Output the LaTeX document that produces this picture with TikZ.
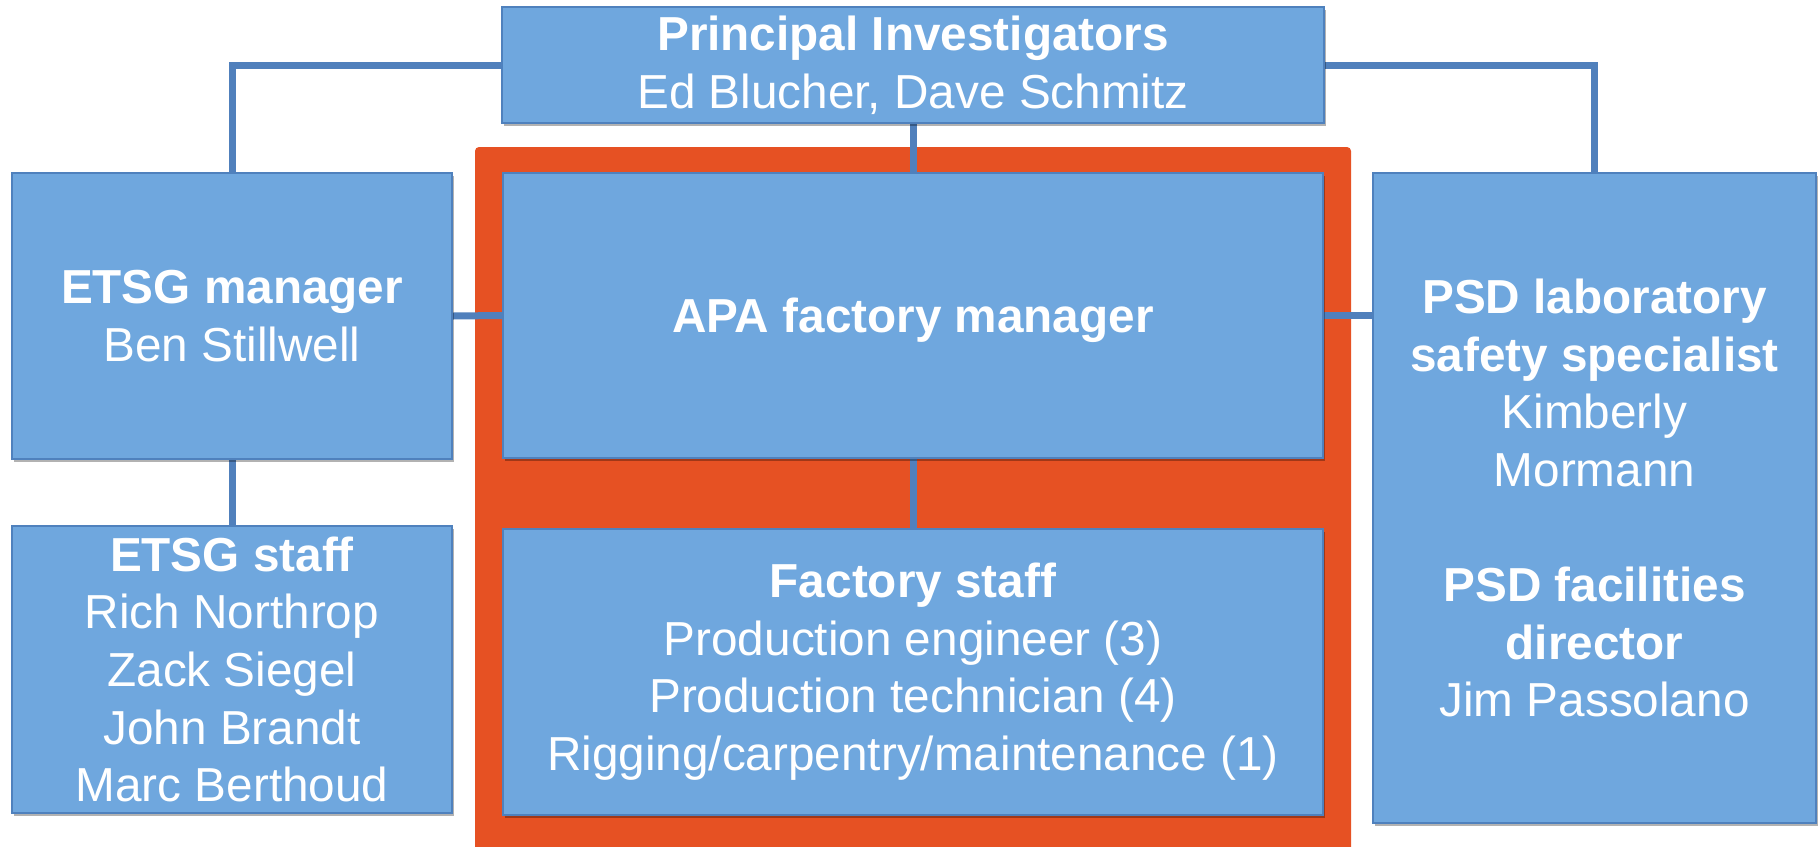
\documentclass[tikz,border=0pt]{standalone}
\usepackage{fontspec}
\setmainfont{Liberation Sans}
\usetikzlibrary{shadows,backgrounds}

\definecolor{boxfill}{RGB}{111,167,222}
\definecolor{boxline}{RGB}{79,129,189}
\definecolor{linkblue}{RGB}{80,128,188}
\definecolor{factoryorange}{RGB}{230,81,35}

\tikzset{
  orgbox/.style={
    draw=boxline, line width=2pt, fill=boxfill,
    text=white, align=center, inner sep=0pt,
    font=\fontsize{47.7}{57.6}\selectfont,
    drop shadow={shadow xshift=1.5pt, shadow yshift=-3pt, opacity=0.3, fill=black}
  },
  link/.style={draw=linkblue, line width=7pt},
  frame/.style={fill=factoryorange, rounded corners=4pt}
}

\begin{document}
\begin{tikzpicture}[x=1pt, y=-1pt]
  \useasboundingbox (0,0) rectangle (1819,846);

  % boxes
  \node[orgbox, minimum width=822pt, minimum height=116pt] (pi) at (913,65)
    {\textbf{Principal Investigators}\\Ed Blucher, Dave Schmitz};
  \node[orgbox, minimum width=440pt, minimum height=286pt] (etsgm) at (232,316)
    {\textbf{ETSG manager}\\Ben Stillwell};
  \node[orgbox, minimum width=440pt, minimum height=287pt] (etsgs) at (232,669.5)
    {\textbf{ETSG staff}\\Rich Northrop\\Zack Siegel\\John Brandt\\Marc Berthoud};
  \node[orgbox, minimum width=820pt, minimum height=285pt, text depth=0pt] (apa) at (913,315.5)
    {\textbf{APA factory manager}};
  \node[orgbox, minimum width=820pt, minimum height=286pt] (fstaff) at (913,671.5)
    {\textbf{Factory staff}\\Production engineer (3)\\Production technician (4)\\Rigging/carpentry/maintenance (1)};
  \node[orgbox, minimum width=443pt, minimum height=650pt] (psd) at (1594.5,498)
    {\textbf{PSD laboratory}\\\textbf{safety specialist}\\Kimberly\\Mormann\\[57.6pt]\textbf{PSD facilities}\\\textbf{director}\\Jim Passolano};

  \begin{pgfonlayer}{background}
    % highlighted factory group
    \path[frame] (475,147) rectangle (1351,852);

    % reporting lines
    \draw[link] (pi.west) -| (etsgm.north);
    \draw[link] (pi.east) -| (psd.north);
    \draw[link] (pi.south) -- (apa.north);
    \draw[link] (apa.south) -- (fstaff.north);
    \draw[link] (etsgm.south) -- (etsgs.north);
    \draw[link] (etsgm.east) -- (apa.west);
    \draw[link] (apa.east) -- (psd.west |- apa.east);
  \end{pgfonlayer}
\end{tikzpicture}
\end{document}
